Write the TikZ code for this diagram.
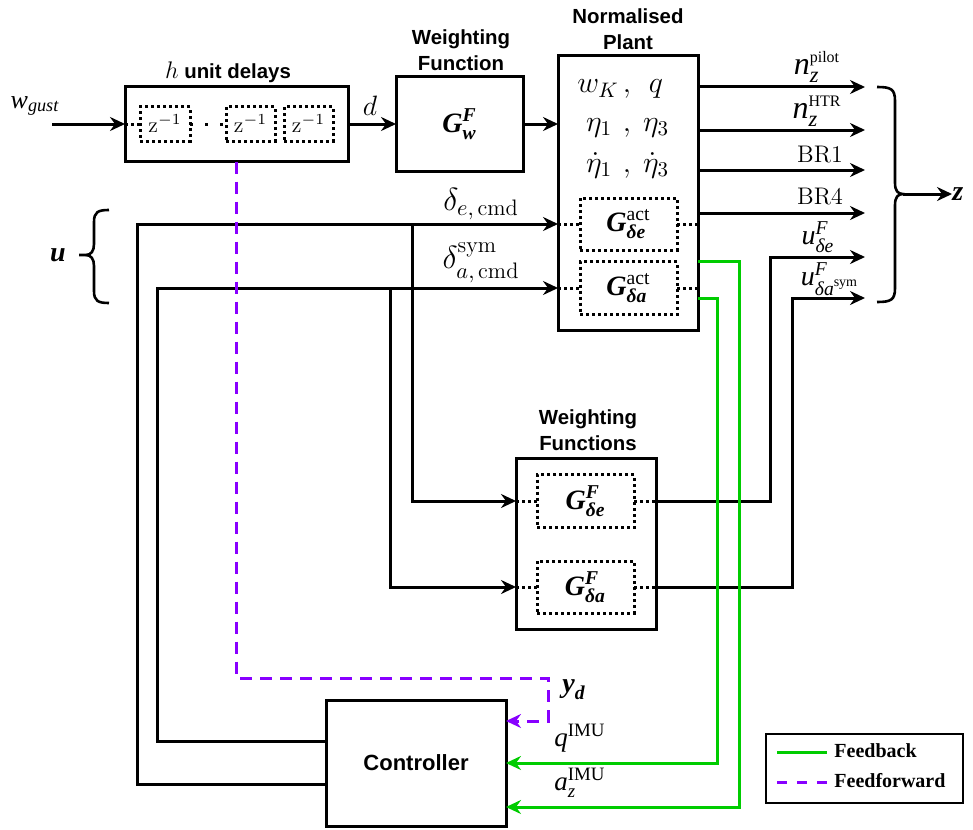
\documentclass[tikz,border=0pt]{standalone}
\usepackage{fix-cm}
\usepackage{amsmath}
\usepackage{fontspec}
\setsansfont{Liberation Sans}
\newfontfamily\tms{Liberation Serif}
\usetikzlibrary{arrows.meta}
\definecolor{fbgreen}{RGB}{0,204,0}
\definecolor{ffpurple}{RGB}{136,0,255}
\newcommand{\ti}[1]{\text{\tms\mdseries\itshape #1}}
\newcommand{\tbi}[1]{\text{\tms\bfseries\itshape #1}}
\newcommand{\tr}[1]{\text{\tms\mdseries\upshape #1}}
\newcommand{\fsz}[1]{\fontsize{#1}{#1}\selectfont}
\begin{document}
\begin{tikzpicture}[x=0.5pt,y=-0.5pt,
 blk/.style={draw,line width=1.5pt,inner sep=0pt,outer sep=0pt},
 dbox/.style={draw,line width=1.5pt,dash pattern=on 1.5pt off 1.5pt,inner sep=0pt,outer sep=0pt},
 dline/.style={line width=1.5pt,dash pattern=on 1.5pt off 1.5pt},
 wire/.style={line width=1.5pt},
 sig/.style={line width=1.5pt,-{Stealth[length=7.5pt,width=7pt,inset=2.5pt]}},
 fb/.style={color=fbgreen},
 ff/.style={color=ffpurple,dash pattern=on 6pt off 4pt},
 ttl/.style={font=\sffamily\bfseries\fontsize{10.2}{13}\selectfont,align=center,inner sep=0pt},
 lab/.style={inner sep=0pt},
 brc/.style={line width=1.3pt}]
\useasboundingbox (0,0) rectangle (973,829);

% ---- unit delays
\node[blk,minimum width=111.5pt,minimum height=37.5pt] (D) at (236.5,124) {};
\node[ttl] (Dt) at (228,72) {{\fsz{12}$h$}\ unit delays};
\node[dbox,minimum width=25pt,minimum height=17pt,font=\fsz{11}] (z1) at (165,124) {$\mathrm{z}^{-1}$};
\node[dbox,minimum width=24.5pt,minimum height=17pt,font=\fsz{11}] (z2) at (250.5,124) {$\mathrm{z}^{-1}$};
\node[dbox,minimum width=24.5pt,minimum height=17pt,font=\fsz{11}] (z3) at (308.5,124) {$\mathrm{z}^{-1}$};
\draw[dline] (D.west |- z1) -- (z1.west);
\draw[line width=1.5pt,dash pattern=on 1.5pt off 6pt] (z1.east) -- (z2.west);

\node[lab,font=\fsz{13}] (wg) at (35,106) {$\ti{w}_{\ti{gust}}$};
\coordinate (win) at (52,124);
\draw[sig] (win) -- (win -| D.west);
\node[lab,font=\fsz{14}] (dl) at (370,106) {$d$};

% ---- weighting function
\node[blk,minimum width=63.5pt,minimum height=47.5pt,font=\fsz{14}] (WF) at (459.5,124) {$\tbi{G}^{\tbi{F}}_{\tbi{w}}$};
\node[ttl] (WFt) at (461,50) {Weighting\\Function};
\draw[sig] (D.east) -- (D.east -| WF.west);

% ---- plant
\node[blk,minimum width=70pt,minimum height=137pt] (P) at (628,193) {};
\node[ttl] (Pt) at (628,29) {Normalised\\Plant};
\draw[sig] (WF.east) -- (WF.east -| P.west);
\node[lab,anchor=base,font=\fsz{15}] (p11) at (598,93) {$w_K$};
\node[lab,anchor=base,font=\fsz{15}] (p12) at (627,93) {$,$};
\node[lab,anchor=base,font=\fsz{15}] (p13) at (656,93) {$q$};
\node[lab,anchor=base,font=\fsz{15}] (p21) at (599,131) {$\eta_1$};
\node[lab,anchor=base,font=\fsz{15}] (p22) at (627,131) {$,$};
\node[lab,anchor=base,font=\fsz{15}] (p23) at (656,131) {$\eta_3$};
\node[lab,anchor=base,font=\fsz{15}] (p31) at (599,172) {$\dot\eta_1$};
\node[lab,anchor=base,font=\fsz{15}] (p32) at (627,172) {$,$};
\node[lab,anchor=base,font=\fsz{15}] (p33) at (656,172) {$\dot\eta_3$};
\node[dbox,minimum width=48.5pt,minimum height=26pt,font=\fsz{14}] (Ae) at (628.5,224) {$\tbi{G}^{\tr{act}}_{\tbi{δe}}$};
\node[dbox,minimum width=48.5pt,minimum height=26.5pt,font=\fsz{14}] (Aa) at (628.5,288) {$\tbi{G}^{\tr{act}}_{\tbi{δa}}$};
\draw[dline] (P.west |- Ae) -- (Ae.west);
\draw[dline] (Ae.east) -- (P.east |- Ae);
\draw[dline] (P.west |- Aa) -- (Aa.west);
\draw[dline] (Aa.east) -- (P.east |- Aa);

% ---- controller and inputs
\node[blk,minimum width=90pt,minimum height=63pt,font=\sffamily\bfseries\fsz{11}] (C) at (416,763) {Controller};
\coordinate (eB) at (137,784); \coordinate (eL) at (137,224);
\coordinate (aB) at (157,741); \coordinate (aL) at (157,288);
\draw[sig] (C.west |- eB) -- (eB) -- (eL) -- (P.west |- Ae);
\draw[sig] (C.west |- aB) -- (aB) -- (aL) -- (P.west |- Aa);
\node[lab,font=\fsz{16}] (de) at (481,204) {$\delta_{e,\,\mathrm{cmd}}$};
\node[lab,font=\fsz{16}] (da) at (481,263) {$\delta^{\mathrm{sym}}_{a,\,\mathrm{cmd}}$};

% ---- weighting functions
\node[blk,minimum width=70pt,minimum height=85.5pt] (WFs) at (586,543.5) {};
\node[ttl] (WFst) at (588,430) {Weighting\\Functions};
\node[dbox,minimum width=48.5pt,minimum height=26.5pt,font=\fsz{14}] (Fe) at (585.5,501) {$\tbi{G}^{\tbi{F}}_{\tbi{δe}}$};
\node[dbox,minimum width=48.5pt,minimum height=26pt,font=\fsz{14}] (Fa) at (585.5,587) {$\tbi{G}^{\tbi{F}}_{\tbi{δa}}$};
\draw[dline] (WFs.west |- Fe) -- (Fe.west);
\draw[dline] (Fe.east) -- (WFs.east |- Fe);
\draw[dline] (WFs.west |- Fa) -- (Fa.west);
\draw[dline] (Fa.east) -- (WFs.east |- Fa);
\coordinate (eJ) at (412,224); \coordinate (aJ) at (390,288);
\draw[sig] (eJ) -- (eJ |- Fe) -- (WFs.west |- Fe);
\draw[sig] (aJ) -- (aJ |- Fa) -- (WFs.west |- Fa);

% ---- outputs
\coordinate (o1) at (865,87); \coordinate (o2) at (865,130);
\coordinate (o3) at (865,170); \coordinate (o4) at (865,213);
\coordinate (o5) at (865,257); \coordinate (o6) at (865,298);
\foreach \o in {o1,o2,o3,o4} \draw[sig] (P.east |- \o) -- (\o);
\coordinate (xe) at (770,0); \coordinate (xa) at (792,0);
\draw[sig] (WFs.east |- Fe) -- (xe |- Fe) -- (xe |- o5) -- (o5);
\draw[sig] (WFs.east |- Fa) -- (xa |- Fa) -- (xa |- o6) -- (o6);
\node[lab,font=\fsz{16}] (l1) at (817,67) {$\ti{n}_{\ti{z}}^{\scriptscriptstyle\tr{pilot}}$};
\node[lab,font=\fsz{16}] (l2) at (817,111) {$\ti{n}_{\ti{z}}^{\scriptscriptstyle\tr{HTR}}$};
\node[lab,font=\fsz{12}] (l3) at (820,155) {$\mathrm{BR1}$};
\node[lab,font=\fsz{12}] (l4) at (820,197) {$\mathrm{BR4}$};
\node[lab,font=\fsz{14}] (l5) at (818,237) {$\ti{u}^{\ti{F}}_{\ti{δe}}$};
\node[lab,font=\fsz{14}] (l6) at (830,279) {$\ti{u}^{\ti{F}}_{\ti{δa}^{\tr{sym}}}$};

% ---- feedback (green)
\coordinate (gA) at (739,261); \coordinate (gB) at (717,298);
\coordinate (azY) at (0,807);
\draw[sig,fb] (P.east |- gA) -- (gA) -- (gA |- azY) -- (C.east |- azY);
\draw[sig,fb] (P.east |- gB) -- (gB) -- (gB |- C.east) -- (C.east);
\node[lab,font=\fsz{13.5}] (lq) at (580,738) {$\ti{q}^{\tr{IMU}}$};
\node[lab,font=\fsz{13.5}] (la) at (580,783) {$\ti{a}_{\ti{z}}^{\tr{IMU}}$};

% ---- feedforward (purple)
\coordinate (pT) at (548,678); \coordinate (ydY) at (0,721);
\draw[sig,ff] (D.south) -- (D.south |- pT) -- (pT) -- (pT |- ydY) -- (C.east |- ydY);
\node[lab,font=\fsz{14}] (yd) at (574,690) {$\tbi{y}_{\tbi{d}}$};

% ---- braces
\coordinate (zt) at (903,194);
\draw[brc] (877,87) .. controls (891,87) and (895,89) .. (895,101) -- (895,183) .. controls (895,191) and (898,194) .. (zt) .. controls (898,194) and (895,197) .. (895,205) -- (895,288) .. controls (895,300) and (891,302) .. (877,302);
\node[lab,anchor=west,font=\fsz{14}] (zl) at (952,194) {$\tbi{z}$};
\draw[sig] (zt) -- (zl);
\coordinate (ut) at (79,255);
\draw[brc] (109,210) .. controls (98,210) and (94,212) .. (94,222) -- (94,244) .. controls (94,251) and (91,255) .. (86,255) -- (ut);
\draw[brc] (86,255) .. controls (91,255) and (94,259) .. (94,266) -- (94,291) .. controls (94,301) and (98,303) .. (109,303);
\node[lab,font=\fsz{14}] (u) at (58,255) {$\tbi{u}$};

% ---- legend
\node[draw,line width=0.7pt,minimum width=98.5pt,minimum height=34.5pt,inner sep=0pt] (L) at (864.5,768.5) {};
\coordinate (l1a) at (777,752); \coordinate (l1b) at (827,752);
\coordinate (l2a) at (777,782); \coordinate (l2b) at (827,782);
\draw[wire,fb] (l1a) -- (l1b);
\draw[wire,color=ffpurple,dash pattern=on 5pt off 5pt] (l2a) -- (l2b);
\node[anchor=west,inner sep=0pt,font=\tms\bfseries\fsz{10}] (lt1) at (834,751) {Feedback};
\node[anchor=west,inner sep=0pt,font=\tms\bfseries\fsz{10}] (lt2) at (834,781) {Feedforward};
\end{tikzpicture}
\end{document}
